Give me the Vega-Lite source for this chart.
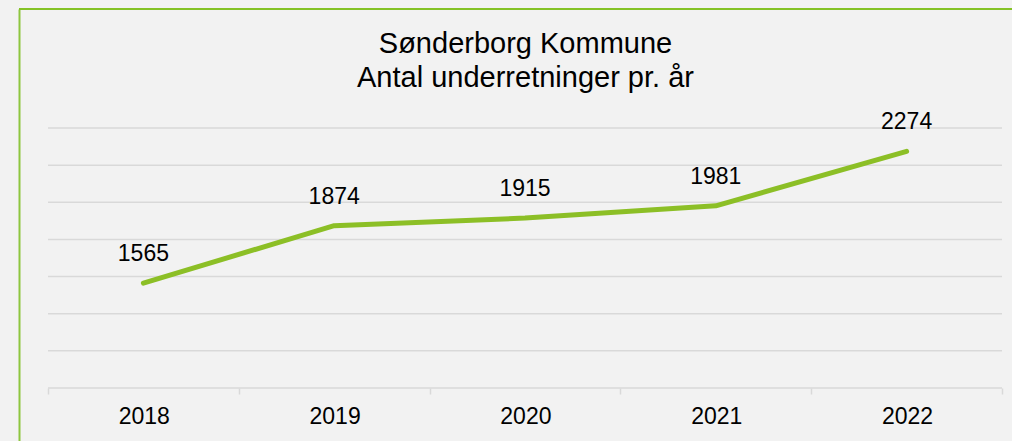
{
  "$schema": "https://vega.github.io/schema/vega-lite/v6.json",
  "autosize": {"type": "none"},
  "padding": {"left": 19, "top": 9, "right": 0, "bottom": 0},
  "width": 993,
  "height": 432,
  "background": "#f2f2f2",
  "config": {
    "view": {"stroke": null, "fill": "#f2f2f2"},
    "font": "Liberation Sans"
  },
  "title": {
    "text": ["Sønderborg Kommune", "Antal underretninger pr. år"],
    "fontSize": 29,
    "fontWeight": "normal",
    "color": "#000000",
    "lineHeight": 34,
    "anchor": "middle",
    "baseline": "alphabetic",
    "offset": -108,
    "dx": 10
  },
  "datasets": {
    "main": [
      {"year": "2018", "n": 1565},
      {"year": "2019", "n": 1874},
      {"year": "2020", "n": 1915},
      {"year": "2021", "n": 1981},
      {"year": "2022", "n": 2274}
    ],
    "grid": [
      {"g": 1000}, {"g": 1200}, {"g": 1400}, {"g": 1600},
      {"g": 1800}, {"g": 2000}, {"g": 2200}, {"g": 2400}
    ],
    "frame": [
      {"top": 3040.8}
    ]
  },
  "layer": [
    {
      "data": {"name": "grid"},
      "mark": {"type": "rule", "color": "#d9d9d9", "strokeWidth": 1.5},
      "encoding": {
        "y": {
          "field": "g", "type": "quantitative",
          "scale": {"domain": [714.6, 3040.8], "nice": false, "zero": false},
          "axis": {"title": null, "domain": true, "domainColor": "#8dc63f", "domainWidth": 2, "ticks": false, "labels": false, "grid": false, "offset": 0}
        },
        "x": {"datum": "2018", "type": "ordinal", "bandPosition": 0},
        "x2": {"datum": "2022", "bandPosition": 1}
      }
    },
    {
      "data": {"name": "frame"},
      "mark": {"type": "rule", "color": "#84c225", "strokeWidth": 2},
      "encoding": {
        "y": {"field": "top", "type": "quantitative"}
      }
    },
    {
      "data": {"name": "main"},
      "mark": {"type": "line", "color": "#8cbf26", "strokeWidth": 5, "strokeCap": "round", "strokeJoin": "round"},
      "encoding": {
        "x": {
          "field": "year", "type": "ordinal",
          "scale": {"type": "band", "domain": ["2018", "2019", "2020", "2021", "2022"], "paddingInner": 0, "paddingOuter": 0.1022, "align": 0.7436},
          "axis": {"title": null, "labelAngle": 0, "labelFontSize": 23, "labelColor": "#000000", "labelPadding": 22, "labelOffset": 26, "tickSize": 6, "tickColor": "#d9d9d9", "tickWidth": 1.5, "domain": false, "grid": false, "tickBand": "extent", "offset": -53}
        },
        "y": {"field": "n", "type": "quantitative"}
      }
    },
    {
      "data": {"name": "main"},
      "mark": {"type": "text", "fontSize": 23, "color": "#000000", "baseline": "alphabetic", "dy": -22},
      "encoding": {
        "x": {"field": "year", "type": "ordinal"},
        "y": {"field": "n", "type": "quantitative"},
        "text": {"field": "n", "type": "quantitative"}
      }
    }
  ]
}
